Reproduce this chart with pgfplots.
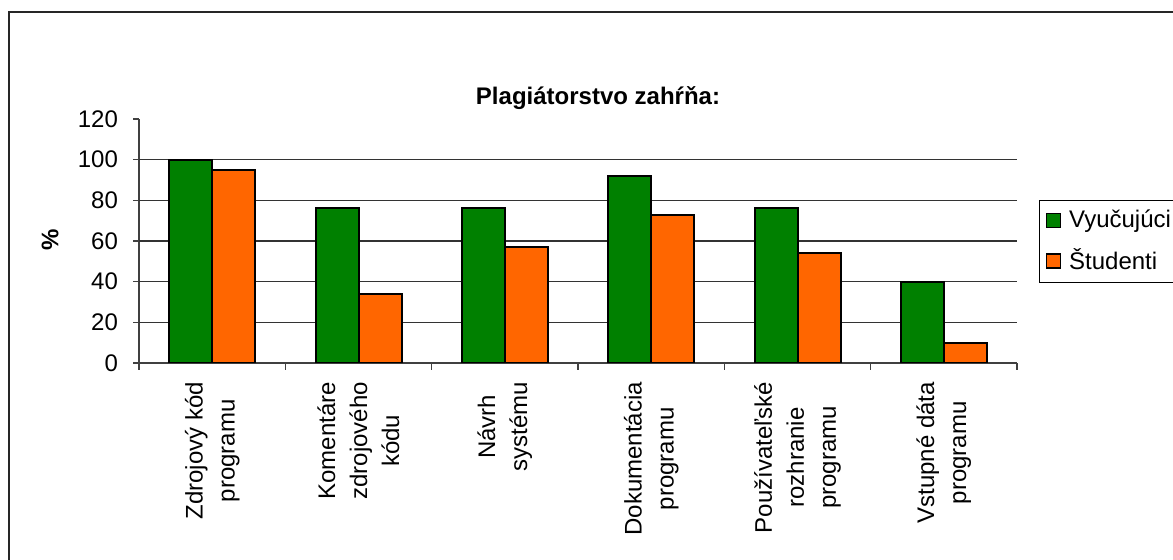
\documentclass[border=0pt]{standalone}
\usepackage{fontspec}
\setmainfont{Liberation Sans}
\usepackage{pgfplots}
\pgfplotsset{compat=1.18}

\definecolor{barGreen}{HTML}{008000}
\definecolor{barOrange}{HTML}{FF6600}

% 1 px of the reference = 0.5pt
\begin{document}
\begin{tikzpicture}
\useasboundingbox (0,0) rectangle (586.5pt,-280pt);
% outer chart frame (cut by the page at right and bottom)
\draw[line width=0.8pt, black!85] (4.5pt,-300pt) -- (4.5pt,-6pt) -- (600pt,-6pt);

\node[font=\fontsize{12}{14}\selectfont\bfseries] at (299pt,-49pt) {Plagiátorstvo zahŕňa:};
\node[font=\fontsize{12}{14}\selectfont\bfseries, rotate=90] at (25pt,-120pt) {\%};

\begin{axis}[
    at={(69.5pt,-181.5pt)}, anchor=south west,
    scale only axis,
    width=439pt, height=122pt,
    ybar=0pt,
    bar width=21.5pt,
    xmin=-0.5, xmax=5.5,
    ymin=0, ymax=120,
    axis x line=bottom, axis y line=left,
    axis line style={line width=0.8pt, black!75, -},
    ytick={0,20,...,120},
    extra y ticks={20,40,60,80,100},
    extra y tick labels={},
    extra y tick style={grid=major, major tick length=0pt},
    major grid style={line width=0.7pt, black!80},
    tick align=outside,
    major tick length=3pt,
    minor tick length=3.5pt,
    tick style={line width=0.8pt, black!75},
    xtick={0,...,5},
    major x tick style={draw=none},
    minor xtick={-0.5,0.5,...,5.5},
    xticklabels={
      {Zdrojový kód\\programu},
      {Komentáre\\zdrojového\\kódu},
      {Návrh\\systému},
      {Dokumentácia\\programu},
      {Používateľské\\rozhranie\\programu},
      {Vstupné dáta\\programu}},
    xticklabel style={rotate=90, anchor=east, align=center,
      font=\fontsize{12}{16}\selectfont, xshift=-3pt},
    yticklabel style={font=\fontsize{12}{14}\selectfont, xshift=-4pt},
    /pgf/number format/assume math mode=true,
    legend cell align=left,
    legend style={at={(rel axis cs:1.025,0.67)}, anchor=north west,
      draw=black, line width=0.6pt,
      font=\fontsize{12}{14}\selectfont,
      inner xsep=3pt, inner ysep=3pt, row sep=5pt,
      /tikz/every odd column/.append style={column sep=2pt}},
    legend image code/.code={\draw[#1, draw=black, line width=0.8pt] (0pt,-3.5pt) rectangle (7pt,3.5pt);},
]
% Vyučujúci
\addplot[fill=barGreen, draw=black, line width=1pt] coordinates {
    (0,100) (1,76) (2,76) (3,92) (4,76) (5,40)
};
% Študenti
\addplot[fill=barOrange, draw=black, line width=1pt] coordinates {
    (0,95) (1,34) (2,57) (3,73) (4,54) (5,10)
};
\legend{Vyučujúci, Študenti}
\end{axis}
\end{tikzpicture}
\end{document}
